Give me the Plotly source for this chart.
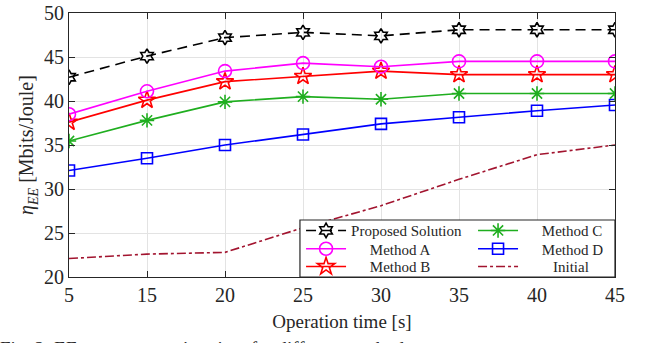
import plotly.graph_objects as go

time_labels = ["5", "15", "20", "25", "30", "35", "40", "45"]
proposed = [42.7, 45.1, 47.2, 47.8, 47.4, 48.1, 48.1, 48.1]
method_a = [38.5, 41.1, 43.4, 44.3, 43.9, 44.5, 44.5, 44.5]
method_b = [37.6, 40.1, 42.2, 42.8, 43.4, 43.0, 43.0, 43.0]
method_c = [35.45, 37.8, 39.9, 40.5, 40.2, 40.85, 40.85, 40.85]
method_d = [32.1, 33.5, 35.0, 36.2, 37.4, 38.15, 38.9, 39.55]
initial = [22.1, 22.6, 22.8, 25.6, 28.1, 31.1, 33.9, 35.0]

xi = list(range(len(time_labels)))
FONT = "Liberation Serif"
INK = "#262626"

fig = go.Figure()

def add(name, y, color, symbol, legend, label, dash="solid", size=12, width=1.6, marker=True):
    fig.add_trace(go.Scatter(
        x=xi, y=y, name=label, legend=legend,
        mode="lines+markers" if marker else "lines",
        line=dict(color=color, width=width, dash=dash),
        marker=dict(symbol=symbol, size=size, color=color,
                    line=dict(color=color, width=1.6)) if marker else None,
    ))

pad = "&nbsp;" * 5
add("Initial", initial, "#a2142f", None, "legend6", "&nbsp;" * 8 + "Initial", dash="dashdot", marker=False)
add("Method D", method_d, "#0000ff", "square-open", "legend5", pad + "Method D", size=11)
add("Method C", method_c, "#1fae1f", "asterisk-open", "legend4", pad + "Method C", size=12)
add("Method B", method_b, "#ff0000", "star-open", "legend3", pad + "Method B", size=13)
add("Method A", method_a, "#ff00ff", "circle-open", "legend2", pad + "Method A", size=13)
add("Proposed Solution", proposed, "black", "hexagram-open", "legend", "Proposed Solution", dash="10px,6px", size=11)

leg_common = dict(
    orientation="v", yanchor="middle", xanchor="left",
    bgcolor="rgba(0,0,0,0)", borderwidth=0,
    font=dict(family=FONT, size=15, color=INK),
    tracegroupgap=0, itemwidth=40,
)
row_y = [0.1754, 0.1061, 0.039]
col_x = [0.425, 0.74]

fig.update_layout(
    width=646, height=343,
    margin=dict(l=69, r=31, t=13, b=66),
    paper_bgcolor="white", plot_bgcolor="white",
    font=dict(family=FONT, size=20, color=INK),
    showlegend=True,
    legend=dict(x=col_x[0], y=row_y[0], **leg_common),
    legend2=dict(x=col_x[0], y=row_y[1], **leg_common),
    legend3=dict(x=col_x[0], y=row_y[2], **leg_common),
    legend4=dict(x=col_x[1], y=row_y[0], **leg_common),
    legend5=dict(x=col_x[1], y=row_y[1], **leg_common),
    legend6=dict(x=col_x[1], y=row_y[2], **leg_common),
    xaxis=dict(
        range=[0, 7], tickmode="array", tickvals=xi, ticktext=time_labels,
        showgrid=True, gridcolor="#e3e3e3", gridwidth=1,
        ticks="inside", ticklen=6, tickcolor=INK,
        showline=True, linecolor=INK, linewidth=1.2, mirror="ticks",
        zeroline=False, automargin=False, ticklabeloverflow="allow",
        title=dict(text="Operation time [s]", font=dict(size=19), standoff=9),
        tickfont=dict(size=20),
    ),
    yaxis=dict(
        range=[20, 50], tickmode="array", tickvals=[20, 25, 30, 35, 40, 45, 50],
        showgrid=True, gridcolor="#e3e3e3", gridwidth=1,
        ticks="inside", ticklen=6, tickcolor=INK,
        showline=True, linecolor=INK, linewidth=1.2, mirror="ticks",
        zeroline=False, automargin=False, ticklabeloverflow="allow",
        title=dict(text="<i>η<sub>EE</sub></i> [Mbits/Joule]", font=dict(size=20), standoff=4),
        tickfont=dict(size=20),
    ),
    shapes=[dict(type="rect", xref="paper", yref="paper",
                 x0=0.423, x1=1.0, y0=0.0, y1=0.216,
                 fillcolor="white", line=dict(color=INK, width=1.2), layer="above")],
)

fig.add_annotation(
    text="Fig. 2: EE versus operation time for different methods.",
    xref="paper", yref="paper", x=-0.13, y=-0.222, xanchor="left", yanchor="top",
    showarrow=False, font=dict(family=FONT, size=19, color=INK),
)

fig.write_html(
    "out.html",
    config={"displayModeBar": False},
    post_script="document.body.style.margin='0';document.body.style.overflow='hidden';",
)
